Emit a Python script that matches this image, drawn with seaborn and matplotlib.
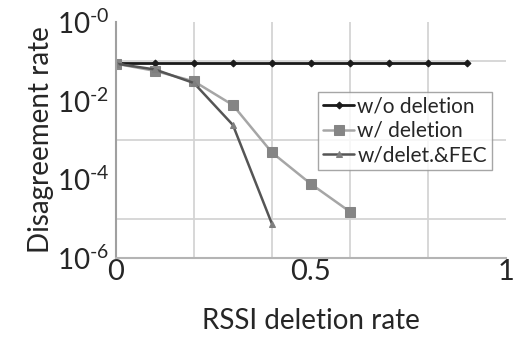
import numpy as np
import pandas as pd
import matplotlib
matplotlib.use("Agg")
import matplotlib.pyplot as plt
import matplotlib.ticker as mticker
import seaborn as sns

# Data
x_nodel = [0.0, 0.1, 0.2, 0.3, 0.4, 0.5, 0.6, 0.7, 0.8, 0.9]
y_nodel = [0.088, 0.088, 0.088, 0.088, 0.088, 0.088, 0.088, 0.088, 0.088, 0.088]
x_del = [0.0, 0.1, 0.2, 0.3, 0.4, 0.5, 0.6]
y_del = [0.087, 0.057, 0.031, 0.0077, 4.8e-4, 7.6e-5, 1.5e-5]
x_fec = [0.0, 0.1, 0.2, 0.3, 0.4]
y_fec = [0.087, 0.062, 0.028, 0.0024, 7.4e-6]
labels = ["w/o deletion", "w/ deletion", "w/delet.&FEC"]
xticklabels = ["0", "0.5", "1"]
yticklabels = ["10$^{\\text{-}0}$", "10$^{\\text{-}2}$", "10$^{\\text{-}4}$", "10$^{\\text{-}6}$"]
xlabel = "RSSI deletion rate"
ylabel = "Disagreement rate"

sns.set_style("white")
plt.rcParams['font.family'] = ['Lato', 'DejaVu Sans']
plt.rcParams['mathtext.fontset'] = 'custom'
plt.rcParams['mathtext.rm'] = 'Lato'
plt.rcParams['mathtext.default'] = 'regular'

fig = plt.figure(figsize=(5.13, 3.38), dpi=100)
ax = fig.add_axes([0.226, 0.237, 0.760, 0.698])

df = pd.concat([
    pd.DataFrame({"x": x_nodel, "y": y_nodel, "s": labels[0]}),
    pd.DataFrame({"x": x_del, "y": y_del, "s": labels[1]}),
    pd.DataFrame({"x": x_fec, "y": y_fec, "s": labels[2]}),
])

styles = {
    labels[0]: dict(color="#1a1a1a", marker="D", ms=3.5, lw=2.0, mfc="#1a1a1a", mec="#1a1a1a"),
    labels[1]: dict(color="#a6a6a6", marker="s", ms=6.5, lw=1.8, mfc="#858585", mec="#858585"),
    labels[2]: dict(color="#555555", marker="^", ms=5, lw=1.8, mfc="#7f7f7f", mec="#7f7f7f"),
}
for s in labels:
    sub = df[df["s"] == s]
    st = styles[s]
    sns.lineplot(data=sub, x="x", y="y", ax=ax, color=st["color"], lw=st["lw"],
                 marker=st["marker"], markersize=st["ms"], markerfacecolor=st["mfc"],
                 markeredgecolor=st["mec"], label=s)

ax.set_yscale("log")
ax.set_xlim(0, 1)
ax.set_ylim(1e-6, 1)

ax.xaxis.set_major_locator(mticker.FixedLocator([0, 0.5, 1]))
ax.xaxis.set_major_formatter(mticker.FixedFormatter(xticklabels))
ax.xaxis.set_minor_locator(mticker.FixedLocator([0, 0.2, 0.4, 0.6, 0.8, 1.0]))
ax.yaxis.set_major_locator(mticker.FixedLocator([1, 1e-2, 1e-4, 1e-6]))
ax.yaxis.set_major_formatter(mticker.FixedFormatter(yticklabels))
ax.yaxis.set_minor_locator(mticker.FixedLocator([10.0 ** -k for k in range(7)]))
ax.yaxis.set_minor_formatter(mticker.NullFormatter())

ax.grid(False, which="major")
ax.grid(True, which="minor", color="#d4d4d4", lw=1.3)
ax.set_axisbelow(True)
ax.tick_params(which="both", length=0)
ax.tick_params(axis="x", labelsize=21, pad=1)
ax.tick_params(axis="y", labelsize=20, pad=5)

for side in ["top", "right"]:
    ax.spines[side].set_visible(False)
ax.spines["left"].set_color("#a0a0a0")
ax.spines["bottom"].set_color("#b4b4b4")
ax.spines["left"].set_linewidth(1.5)
ax.spines["bottom"].set_linewidth(1.5)

ax.set_xlabel(xlabel, fontsize=20, labelpad=16)
ax.set_ylabel(ylabel, fontsize=20, labelpad=2)

leg = ax.legend(loc="upper left", bbox_to_anchor=(0.518, 0.705), frameon=True,
                fancybox=False, fontsize=15, handlelength=1.5, handletextpad=0.15,
                borderpad=0.25, labelspacing=0.2, borderaxespad=0)
leg.get_frame().set_edgecolor("#909090")
leg.get_frame().set_linewidth(1.0)

fig.savefig("out.png", dpi=100)
